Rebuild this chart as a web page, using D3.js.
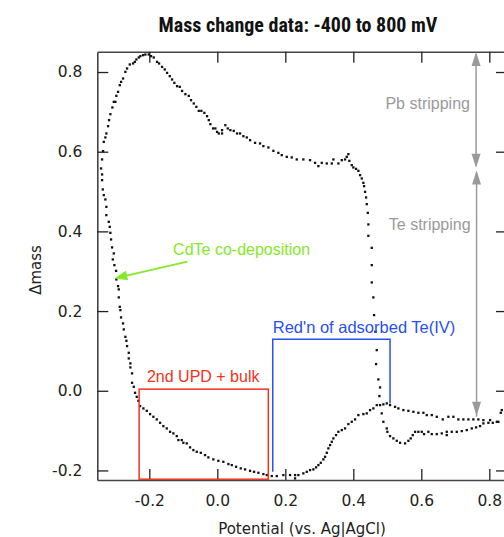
<!DOCTYPE html>
<html><head><meta charset="utf-8">
<script src="https://cdn.jsdelivr.net/npm/d3@7"></script>
<style>body{margin:0;background:#fff;overflow:hidden}</style>
</head><body><script>
// Data (Potential V vs Ag|AgCl, Δmass)
const potential = [
-0.2018,-0.2118,-0.2185,-0.2265,-0.2312,-0.2382,-0.2429,-0.2479,-0.2576,-0.2656,-0.2706,-0.2774,-0.2832,-0.2871,-0.2921,-0.2971,-0.3000,-0.3047,-0.3088,-0.3147,-0.3185,-0.3215,-0.3265,-0.3294,-0.3341,-0.3362,-0.3391,-0.3421,-0.3391,-0.3391,-0.3371,-0.3341,
-0.3294,-0.3265,-0.3265,-0.3194,-0.3165,-0.3147,-0.3126,-0.3097,-0.3047,-0.3076,-0.3029,-0.2979,-0.2971,-0.2921,-0.2900,-0.2900,-0.2871,-0.2853,-0.2832,-0.2774,-0.2753,-0.2706,-0.2676,-0.2656,-0.2606,-0.2606,-0.2559,-0.2559,-0.2509,-0.2509,-0.2459,
-0.2421,-0.2371,-0.2324,-0.2274,-0.2176,-0.2076,-0.1979,-0.1882,-0.1782,-0.1685,-0.1588,-0.1488,-0.1391,-0.1294,-0.1194,-0.1147,-0.1047,-0.1000,-0.0900,-0.0803,-0.0706,-0.0606,-0.0488,-0.0362,-0.0265,-0.0118,0.0029,0.0176,0.0324,0.0424,0.0550,0.0688,0.0815,0.0962,0.1079,0.1206,0.1353,0.1453,
0.1600,0.1747,0.1941,0.2138,0.2285,0.2285,0.2382,0.2529,0.2629,0.2726,0.2824,0.2903,0.2971,0.3041,0.3118,0.3168,0.3218,0.3265,0.3315,0.3365,0.3412,0.3491,0.3559,0.3659,0.3756,0.3853,0.3953,0.4050,0.4147,0.4294,0.4394,0.4491,0.4588,0.4688,
0.4785,0.4882,0.4982,0.5079,0.5226,0.5324,0.5471,0.5618,0.5765,0.5912,0.6059,0.6159,0.6306,0.6453,0.6629,0.6794,0.6941,0.7088,0.7235,0.7382,0.7529,0.7676,0.7824,0.8021,0.8218,0.8335,0.8365,
0.8265,0.8100,0.7971,0.7824,0.7726,0.7609,0.7482,0.7335,0.7188,0.7041,0.6894,0.6747,0.6747,0.6600,0.6453,0.6306,0.6206,0.6079,0.6012,0.5912,0.5815,0.5747,0.5688,0.5618,0.5521,0.5374,0.5276,0.5176,0.5079,0.5000,0.4982,0.4882,0.4835,0.4765,0.4785,0.4735,
0.4668,0.4688,0.4647,0.4609,0.4588,0.4541,0.4541,0.4541,0.4441,0.4441,0.4424,0.4394,0.4374,0.4344,0.4315,0.4294,0.4247,0.4197,0.4147,0.4079,0.4000,0.3953,0.3882,0.3853,0.3806,0.3756,0.3659,0.3559,0.3412,0.3365,0.3218,0.3071,0.2971,0.2874,0.2726,0.2529,0.2335,0.2188,0.2041,0.1894,0.1794,0.1647,0.1500,0.1353,0.1256,0.1109,0.0962,0.0865,0.0765,0.0668,
0.0579,0.0482,0.0382,0.0306,0.0235,0.0138,0.0138,0.0041,-0.0009,-0.0059,-0.0126,-0.0206,-0.0253,-0.0303,-0.0382,-0.0471,-0.0547,-0.0618,-0.0694,-0.0774,-0.0841,-0.0941,-0.1038,-0.1106,-0.1185,-0.1265,-0.1332,-0.1400,-0.1479,-0.1547,-0.1626,-0.1715,-0.1774,-0.1871,-0.1950
];
const mass = [
0.8442,0.8440,0.8424,0.8399,0.8366,0.8316,0.8256,0.8216,0.8191,0.8090,0.8005,0.7839,0.7754,0.7671,0.7503,0.7403,0.7252,0.7252,0.7112,0.6943,0.6793,0.6642,0.6459,0.6359,0.6248,0.6015,0.5807,0.5581,0.5430,0.5287,0.5054,0.4911,
0.4803,0.4617,0.4409,0.4241,0.4115,0.3965,0.3799,0.3599,0.3448,0.3297,0.3154,0.3011,0.2795,0.2627,0.2545,0.2344,0.2108,0.2025,0.1842,0.1691,0.1541,0.1355,0.1255,0.1122,0.0954,0.0813,0.0688,0.0587,0.0437,0.0201,0.0100,
-0.0050,-0.0151,-0.0251,-0.0384,-0.0442,-0.0502,-0.0585,-0.0652,-0.0718,-0.0803,-0.0886,-0.0944,-0.1029,-0.1069,-0.1137,-0.1237,-0.1237,-0.1305,-0.1320,-0.1420,-0.1488,-0.1531,-0.1556,-0.1614,-0.1671,-0.1721,-0.1757,-0.1782,-0.1839,-0.1865,-0.1907,-0.1947,-0.1972,-0.2008,-0.2033,-0.2058,-0.2090,-0.2115,
-0.2140,-0.2140,-0.2115,-0.2115,-0.2198,-0.2115,-0.2115,-0.2073,-0.2033,-0.1990,-0.1972,-0.1922,-0.1864,-0.1807,-0.1721,-0.1656,-0.1556,-0.1445,-0.1363,-0.1280,-0.1194,-0.1112,-0.1029,-0.0986,-0.0944,-0.0836,-0.0778,-0.0718,-0.0610,-0.0585,-0.0567,-0.0484,-0.0442,-0.0359,
-0.0359,-0.0341,-0.0316,-0.0359,-0.0402,-0.0442,-0.0484,-0.0502,-0.0527,-0.0552,-0.0552,-0.0610,-0.0610,-0.0652,-0.0718,-0.0652,-0.0652,-0.0718,-0.0718,-0.0718,-0.0718,-0.0718,-0.0735,-0.0735,-0.0778,-0.0552,-0.0484,
-0.0778,-0.0803,-0.0803,-0.0818,-0.0886,-0.0918,-0.0944,-0.0986,-0.1011,-0.1029,-0.1029,-0.1029,-0.1112,-0.1069,-0.1087,-0.1087,-0.1029,-0.1087,-0.1029,-0.1029,-0.1029,-0.1112,-0.1194,-0.1255,-0.1320,-0.1305,-0.1255,-0.1194,-0.1137,-0.1029,-0.0944,-0.0778,-0.0567,-0.0133,0.0085,0.0286,
0.0670,0.1021,0.1481,0.1900,0.2344,0.2720,0.3154,0.3588,0.3890,0.4176,0.4467,0.4685,0.4853,0.4994,0.5137,0.5220,0.5330,0.5413,0.5521,0.5571,0.5606,0.5664,0.5772,0.5940,0.5872,0.5807,0.5789,0.5706,0.5807,0.5706,0.5706,0.5721,0.5639,0.5721,0.5789,0.5807,0.5807,0.5857,0.5872,0.5915,0.5972,0.6023,0.6108,0.6141,0.6208,0.6223,0.6291,0.6359,0.6391,0.6459,
0.6459,0.6524,0.6542,0.6585,0.6667,0.6542,0.6459,0.6459,0.6499,0.6585,0.6585,0.6693,0.6793,0.6893,0.6976,0.7026,0.7026,0.7127,0.7212,0.7295,0.7403,0.7445,0.7528,0.7629,0.7646,0.7729,0.7814,0.7897,0.7980,0.8065,0.8130,0.8216,0.8256,0.8366,0.8399
];
const xTicks = [-0.2, 0.0, 0.2, 0.4, 0.6, 0.8];
const yTicks = [-0.2, 0.0, 0.2, 0.4, 0.6, 0.8];
const titleText = "Mass change data: -400 to 800 mV";
const xLabel = "Potential (vs. Ag|AgCl)";
const yLabel = "Δmass";
const annoLabels = ["Pb stripping", "Te stripping", "CdTe co-deposition", "2nd UPD + bulk", "Red'n of adsorbed Te(IV)"];

const W = 504, H = 537;
const svg = d3.select("body").append("svg").attr("width", W).attr("height", H);
const x = d3.scaleLinear().domain([-0.353, 0.852]).range([97.3, 507]);
const y = d3.scaleLinear().domain([-0.224, 0.851]).range([480, 51.7]);
const FONT = "'DejaVu Sans', Verdana, sans-serif";
const axisCol = "#444";

// Title
svg.append("text").attr("x", 298).attr("y", 32).attr("text-anchor", "middle")
  .attr("font-family", "'Liberation Sans Narrow', 'Roboto Condensed', 'Liberation Sans', sans-serif")
  .attr("font-weight", "bold").attr("font-size", 20).attr("fill", "#111").text(titleText);

// Axes (ticks pointing inward)
const fmt = d => d.toFixed(1);
const gL = svg.append("g").attr("transform", `translate(${x.range()[0]},0)`)
  .call(d3.axisLeft(y).tickValues(yTicks).tickSizeInner(-11).tickSizeOuter(0).tickPadding(15).tickFormat(fmt));
const gR = svg.append("g").attr("transform", `translate(${x.range()[1]},0)`)
  .call(d3.axisRight(y).tickValues(yTicks).tickSizeInner(-11).tickSizeOuter(0).tickFormat(""));
const gB = svg.append("g").attr("transform", `translate(0,${y.range()[0]})`)
  .call(d3.axisBottom(x).tickValues(xTicks).tickSizeInner(-11).tickSizeOuter(0).tickPadding(15).tickFormat(fmt));
const gT = svg.append("g").attr("transform", `translate(0,${y.range()[1]})`)
  .call(d3.axisTop(x).tickValues(xTicks).tickSizeInner(-11).tickSizeOuter(0).tickFormat(""));
[gL, gR, gB, gT].forEach(g => {
  g.select(".domain").attr("stroke", axisCol).attr("stroke-width", 1.6);
  g.selectAll(".tick line").attr("stroke", "#222").attr("stroke-width", 1.3);
  g.selectAll(".tick text").attr("font-family", FONT).attr("font-size", 15.5).attr("fill", "#222");
});

// Axis labels
svg.append("text").attr("x", 302).attr("y", 534).attr("text-anchor", "middle")
  .attr("font-family", FONT).attr("font-size", 15).attr("fill", "#222").text(xLabel);
svg.append("text").attr("transform", "translate(41,270) rotate(-90)").attr("text-anchor", "middle")
  .attr("font-family", FONT).attr("font-size", 15).attr("fill", "#222").text(yLabel);

// Data points
svg.append("g").selectAll("rect").data(potential.map((p, i) => [p, mass[i]])).join("rect")
  .attr("x", d => x(d[0]) - 1.1).attr("y", d => y(d[1]) - 1.1)
  .attr("width", 2.3).attr("height", 2.3).attr("fill", "#111");

const AFONT = "'Liberation Sans', Arial, sans-serif";
function arrowHead(tipX, tipY, dx, dy, len, half, col) {
  const n = Math.hypot(dx, dy), ux = dx / n, uy = dy / n;
  const bx = tipX - ux * len, by = tipY - uy * len;
  svg.append("polygon").attr("points",
    `${tipX},${tipY} ${bx - uy * half},${by + ux * half} ${bx + uy * half},${by - ux * half}`)
    .attr("fill", col);
}

// Gray double arrows
const gray = "#9a9a9a";
const ax = x(0.761);
svg.append("line").attr("x1", ax).attr("x2", ax).attr("y1", y(0.845)).attr("y2", y(0.565)).attr("stroke", gray).attr("stroke-width", 1.5);
arrowHead(ax, y(0.850), 0, -1, 14, 4.5, gray);
arrowHead(ax, y(0.560), 0, 1, 14, 4.5, gray);
svg.append("line").attr("x1", ax + 0.5).attr("x2", ax + 0.5).attr("y1", y(0.548)).attr("y2", y(-0.065)).attr("stroke", gray).attr("stroke-width", 1.5);
arrowHead(ax + 0.5, y(0.553), 0, -1, 14, 4.5, gray);
arrowHead(ax + 0.5, y(-0.063), 0, 1, 14, 4.5, gray);
svg.append("text").attr("x", x(0.743)).attr("y", y(0.722) + 6).attr("text-anchor", "end")
  .attr("font-family", AFONT).attr("font-size", 16).attr("fill", gray).text(annoLabels[0]);
svg.append("text").attr("x", x(0.745)).attr("y", y(0.419) + 6).attr("text-anchor", "end")
  .attr("font-family", AFONT).attr("font-size", 16).attr("fill", gray).text(annoLabels[1]);

// Green annotation
const green = "#86e82a";
svg.append("text").attr("x", x(-0.13)).attr("y", y(0.355) + 6)
  .attr("font-family", AFONT).attr("font-size", 16).attr("fill", green).text(annoLabels[2]);
const gx1 = x(-0.088), gy1 = y(0.324), gx2 = x(-0.303), gy2 = y(0.282);
svg.append("line").attr("x1", gx1).attr("y1", gy1).attr("x2", gx2 + 10).attr("y2", gy2 - 2.3)
  .attr("stroke", green).attr("stroke-width", 1.7);
arrowHead(gx2, gy2, gx2 - gx1, gy2 - gy1, 13, 5, green);

// Red box
const red = "#f03322";
svg.append("rect").attr("x", x(-0.230)).attr("y", y(0.004))
  .attr("width", x(0.150) - x(-0.230)).attr("height", y(-0.222) - y(0.004))
  .attr("fill", "none").attr("stroke", red).attr("stroke-width", 1.5);
svg.append("text").attr("x", x(-0.207)).attr("y", y(0.037) + 6)
  .attr("font-family", AFONT).attr("font-size", 16).attr("fill", red).text(annoLabels[3]);

// Blue bracket
const blue = "#2a4ff0";
svg.append("path").attr("d",
  `M${x(0.163)},${y(-0.203)} V${y(0.129)} H${x(0.508)} V${y(-0.032)}`)
  .attr("fill", "none").attr("stroke", blue).attr("stroke-width", 1.5);
svg.append("text").attr("x", x(0.163)).attr("y", y(0.160) + 6)
  .attr("font-family", AFONT).attr("font-size", 16.5).attr("fill", blue).text(annoLabels[4]);
</script></body></html>
